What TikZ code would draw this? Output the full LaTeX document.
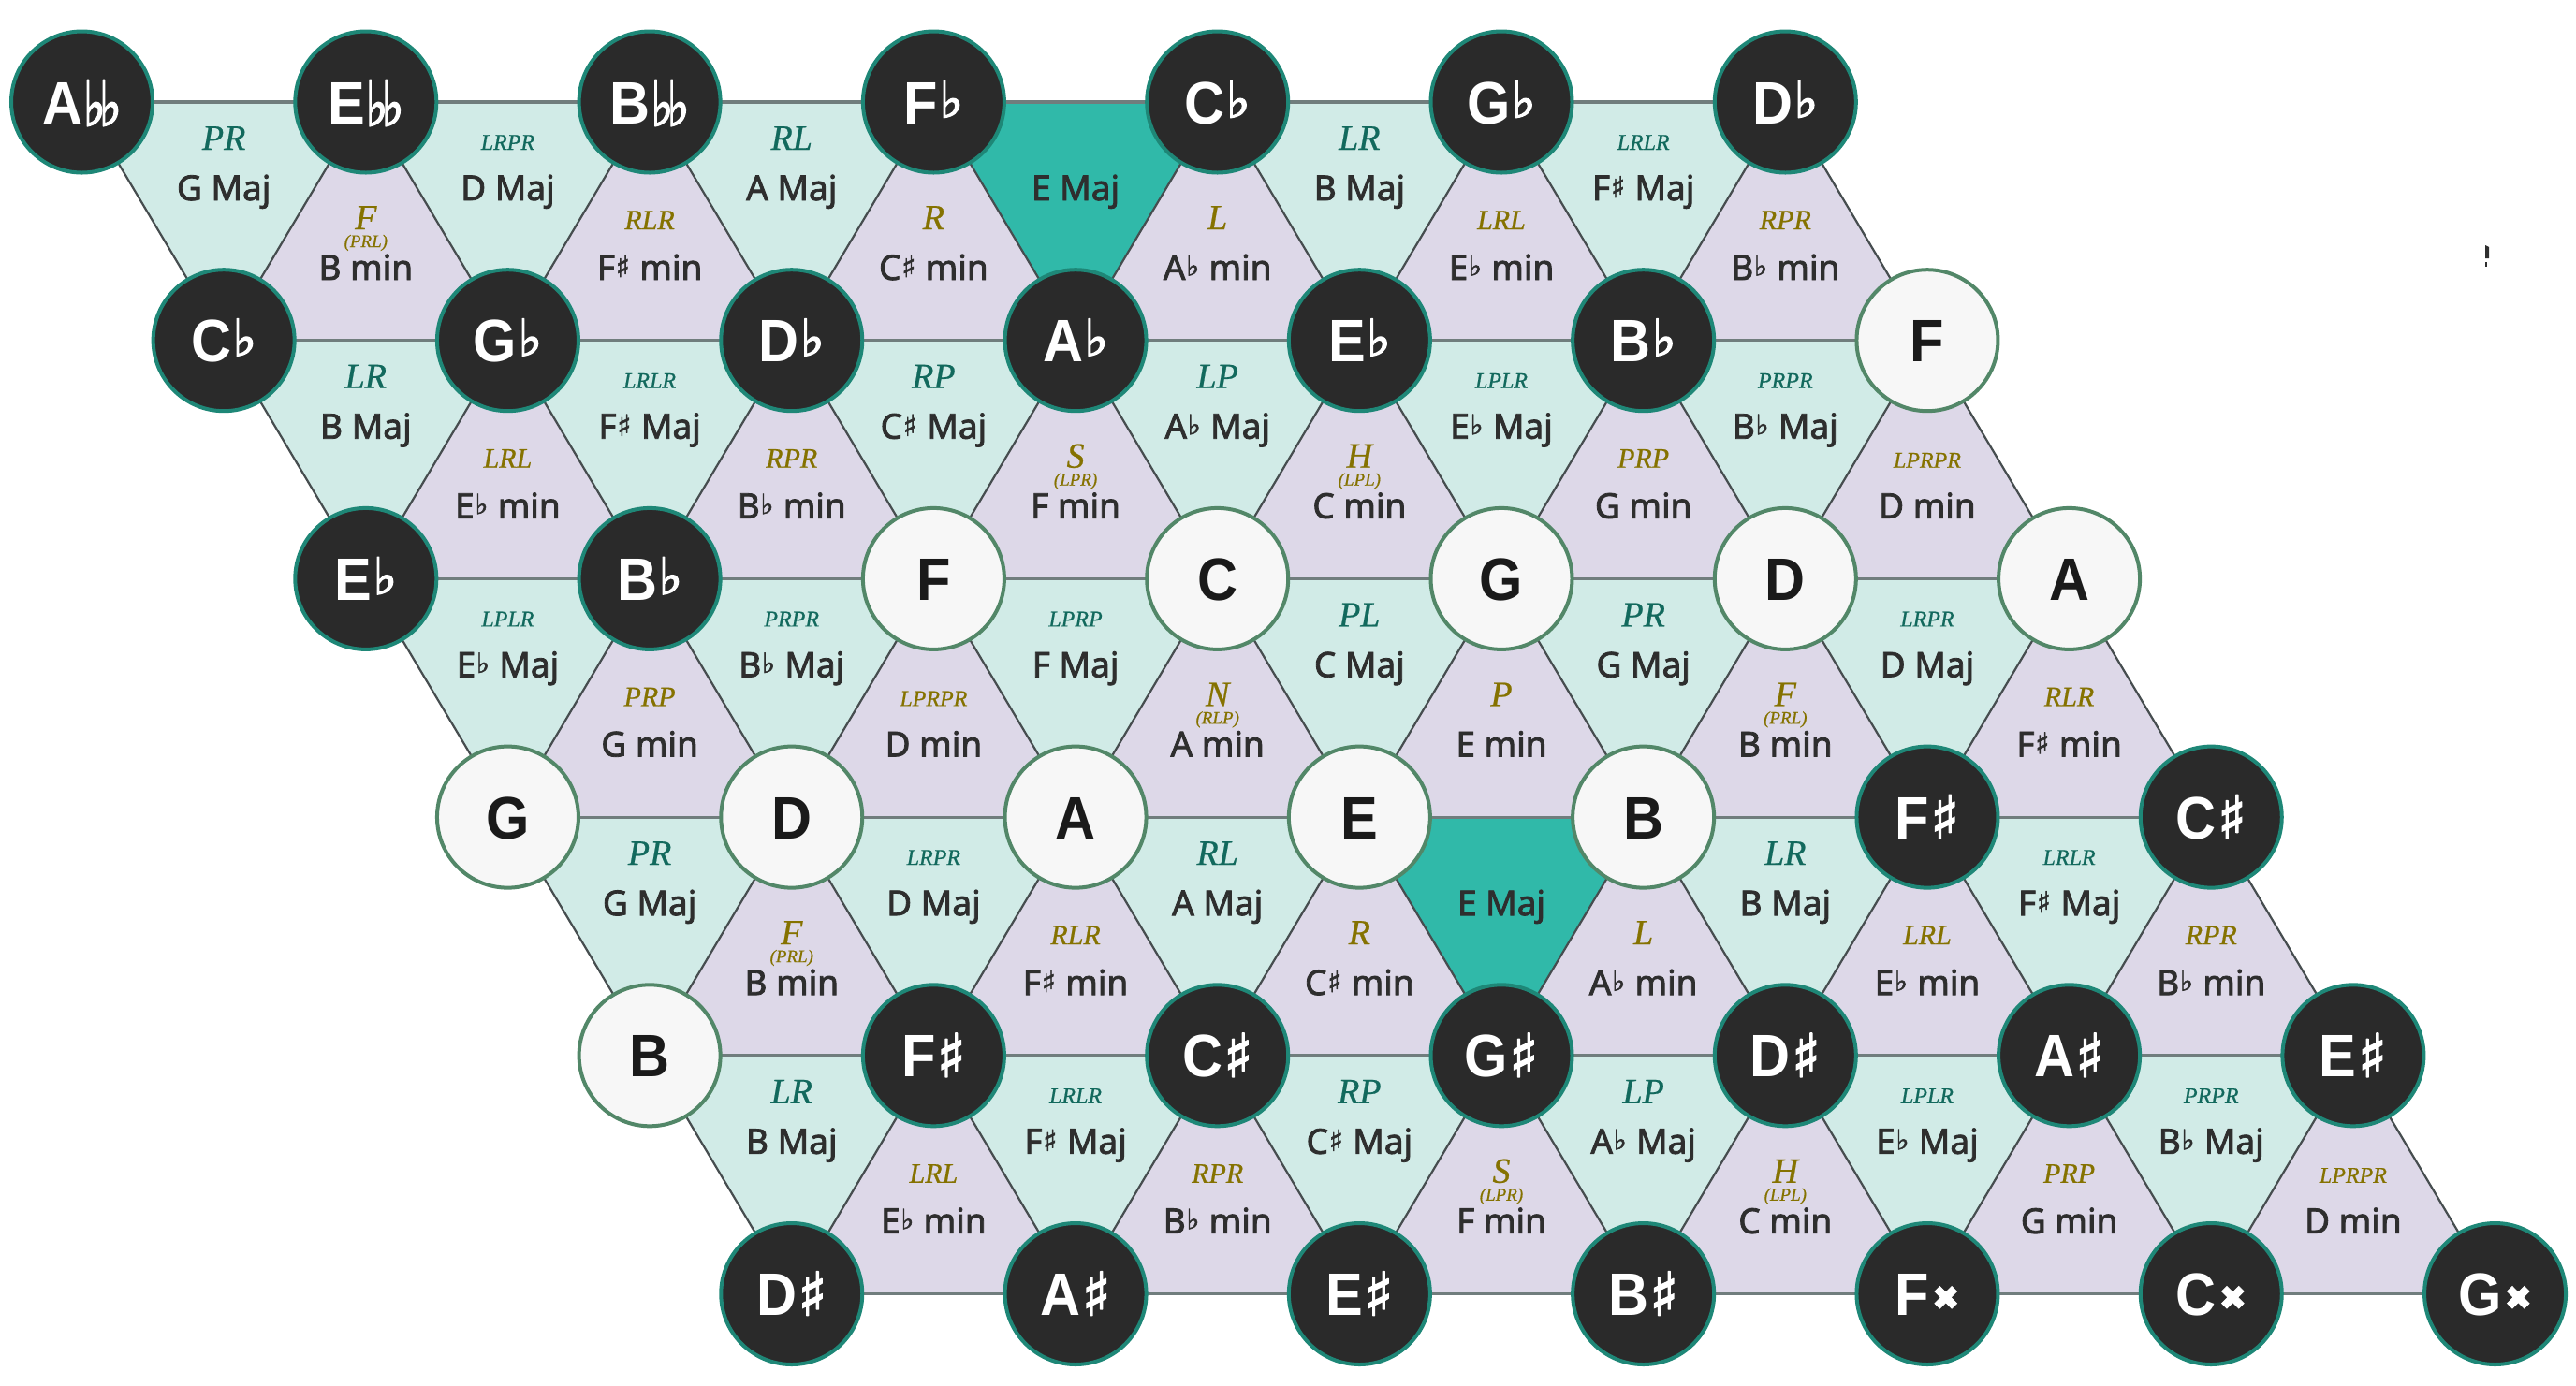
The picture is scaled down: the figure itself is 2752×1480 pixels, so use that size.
\documentclass[tikz,border=0pt]{standalone}
\usepackage{fontspec}
\usepackage{graphicx}
\setmainfont{Liberation Serif}
\newfontfamily\notefont{Liberation Sans}[FakeStretch=0.93]
\newfontfamily\chordfont{Noto Sans}[FakeBold=2.2]
\newfontfamily\labfont{Liberation Serif}[FakeBold=0.6]
\newfontfamily\symf{DejaVu Sans}[FakeBold=2.5]
\newfontfamily\symc{DejaVu Sans}[FakeBold=1.8]
\usetikzlibrary{calc}
\pgfdeclarelayer{bg}
\pgfdeclarelayer{lines}
\pgfsetlayers{bg,lines,main}

\definecolor{majfill}{HTML}{D1EBE7}
\definecolor{minfill}{HTML}{DDD8E8}
\definecolor{hifill}{HTML}{30B9A9}
\definecolor{darknode}{HTML}{2A2A2A}
\definecolor{darkborder}{HTML}{1E8777}
\definecolor{lightnode}{HTML}{F7F7F7}
\definecolor{lightborder}{HTML}{528768}
\definecolor{lightnotetext}{HTML}{1A1A1A}
\definecolor{majlab}{HTML}{12695D}
\definecolor{minlab}{HTML}{857200}
\definecolor{chordtext}{HTML}{2E2E2E}
\definecolor{hlinecol}{HTML}{707D7D}
\definecolor{dlinecol}{HTML}{464D4F}

% accidentals
\newcommand\nsh{\kern0.02em\raisebox{0.0em}{\scalebox{1.0}{\symf ♯}}}
\newcommand\nfl{\kern0.02em\raisebox{0.1em}{\scalebox{0.85}{\symf ♭}}}
\newcommand\nff{\kern0.01em\raisebox{-0.04em}{\scalebox{0.8}[1.05]{\symf ♭\kern-0.14em♭}}}
\newcommand\nxx{\kern0.05em\raisebox{0.1em}{\scalebox{0.55}{\symf ✖}}}
\newcommand\csh{\kern0.02em\raisebox{0.08em}{\scalebox{0.85}{\symc ♯}}\kern0.02em}
\newcommand\cfl{\kern0.02em\raisebox{0.12em}{\scalebox{0.8}{\symc ♭}}\kern0.02em}

% node placement: row r, column i
\newcommand\nd[4]{%
  \pgfmathsetmacro\myx{87.5+151.65*#1+303.3*#2}%
  \pgfmathsetmacro\myy{109+254.7*#1}%
  \node[#3] (n-#1-#2) at (\myx,\myy) {#4};}
% major (downward) triangle labels: top edge (r,i)-(r,i+1)
\newcommand\maj[5]{%
  \pgfmathsetmacro\myx{87.5+151.65*#1+303.3*#2+151.65}%
  \pgfmathsetmacro\myy{109+254.7*#1}%
  \node[#3,text=majlab] (ml-#1-#2) at (\myx,\myy+51) {#4};
  \node[chord] (mc-#1-#2) at (\myx,\myy+105) {#5};}
\newcommand\majh[3]{%
  \pgfmathsetmacro\myx{87.5+151.65*#1+303.3*#2+151.65}%
  \pgfmathsetmacro\myy{109+254.7*#1}%
  \node[chord] (mc-#1-#2) at (\myx,\myy+105) {#3};}
% minor (upward) triangle labels: top vertex (r,i)
\newcommand\mnr[5]{%
  \pgfmathsetmacro\myx{87.5+151.65*#1+303.3*#2}%
  \pgfmathsetmacro\myy{109+254.7*#1}%
  \node[#3,text=minlab] (nl-#1-#2) at (\myx,\myy+136) {#4};
  \node[chord] (nc-#1-#2) at (\myx,\myy+190) {#5};}
\newcommand\mns[5]{%
  \pgfmathsetmacro\myx{87.5+151.65*#1+303.3*#2}%
  \pgfmathsetmacro\myy{109+254.7*#1}%
  \node[lbig,text=minlab] (nl-#1-#2) at (\myx,\myy+136) {#3};
  \node[lsub,text=minlab] (ns-#1-#2) at (\myx,\myy+155) {(#4)};
  \node[chord] (nc-#1-#2) at (\myx,\myy+190) {#5};}

\newcommand\bandA[1]{%
  \maj{#1}{0}{lbig}{PR}{G Maj}
  \maj{#1}{1}{lsmall}{LRPR}{D Maj}
  \maj{#1}{2}{lbig}{RL}{A Maj}
  \majh{#1}{3}{E Maj}
  \maj{#1}{4}{lbig}{LR}{B Maj}
  \maj{#1}{5}{lsmall}{LRLR}{F\csh{} Maj}
  \mns{#1}{1}{F}{PRL}{B min}
  \mnr{#1}{2}{lmed}{RLR}{F\csh{} min}
  \mnr{#1}{3}{lbig}{R}{C\csh{} min}
  \mnr{#1}{4}{lbig}{L}{A\cfl{} min}
  \mnr{#1}{5}{lmed}{LRL}{E\cfl{} min}
  \mnr{#1}{6}{lmed}{RPR}{B\cfl{} min}}
\newcommand\bandB[1]{%
  \maj{#1}{0}{lbig}{LR}{B Maj}
  \maj{#1}{1}{lsmall}{LRLR}{F\csh{} Maj}
  \maj{#1}{2}{lbig}{RP}{C\csh{} Maj}
  \maj{#1}{3}{lbig}{LP}{A\cfl{} Maj}
  \maj{#1}{4}{lsmall}{LPLR}{E\cfl{} Maj}
  \maj{#1}{5}{lsmall}{PRPR}{B\cfl{} Maj}
  \mnr{#1}{1}{lmed}{LRL}{E\cfl{} min}
  \mnr{#1}{2}{lmed}{RPR}{B\cfl{} min}
  \mns{#1}{3}{S}{LPR}{F min}
  \mns{#1}{4}{H}{LPL}{C min}
  \mnr{#1}{5}{lmed}{PRP}{G min}
  \mnr{#1}{6}{lsmall}{LPRPR}{D min}}

\begin{document}
\begin{tikzpicture}[x=0.5pt,y=-0.5pt,
  dk/.style={circle,draw=darkborder,fill=darknode,line width=2pt,minimum size=75.5pt,inner sep=0pt,
     text=white,font=\notefont\bfseries\fontsize{32}{32}\selectfont,text height=23pt,text depth=0pt},
  lt/.style={dk,draw=lightborder,fill=lightnode,text=lightnotetext},
  chord/.style={anchor=base,inner sep=0pt,text=chordtext,font=\chordfont\fontsize{18.5}{18.5}\selectfont},
  lbig/.style={anchor=base,inner sep=0pt,font=\labfont\itshape\fontsize{19}{19}\selectfont},
  lmed/.style={lbig,font=\labfont\itshape\fontsize{15}{15}\selectfont},
  lsmall/.style={lbig,font=\labfont\itshape\fontsize{12}{12}\selectfont},
  lsub/.style={lbig,font=\labfont\itshape\fontsize{9.5}{9.5}\selectfont},
  hline/.style={draw=hlinecol,line width=1.6pt},
  dline/.style={draw=dlinecol,line width=1.1pt}]
\useasboundingbox (0,0) rectangle (2752,1480);

% ---- note nodes
\nd{0}{0}{dk}{A\nff}\nd{0}{1}{dk}{E\nff}\nd{0}{2}{dk}{B\nff}\nd{0}{3}{dk}{F\nfl}
\nd{0}{4}{dk}{C\nfl}\nd{0}{5}{dk}{G\nfl}\nd{0}{6}{dk}{D\nfl}
\nd{1}{0}{dk}{C\nfl}\nd{1}{1}{dk}{G\nfl}\nd{1}{2}{dk}{D\nfl}\nd{1}{3}{dk}{A\nfl}
\nd{1}{4}{dk}{E\nfl}\nd{1}{5}{dk}{B\nfl}\nd{1}{6}{lt}{F}
\nd{2}{0}{dk}{E\nfl}\nd{2}{1}{dk}{B\nfl}\nd{2}{2}{lt}{F}\nd{2}{3}{lt}{C}
\nd{2}{4}{lt}{G}\nd{2}{5}{lt}{D}\nd{2}{6}{lt}{A}
\nd{3}{0}{lt}{G}\nd{3}{1}{lt}{D}\nd{3}{2}{lt}{A}\nd{3}{3}{lt}{E}
\nd{3}{4}{lt}{B}\nd{3}{5}{dk}{F\nsh}\nd{3}{6}{dk}{C\nsh}
\nd{4}{0}{lt}{B}\nd{4}{1}{dk}{F\nsh}\nd{4}{2}{dk}{C\nsh}\nd{4}{3}{dk}{G\nsh}
\nd{4}{4}{dk}{D\nsh}\nd{4}{5}{dk}{A\nsh}\nd{4}{6}{dk}{E\nsh}
\nd{5}{0}{dk}{D\nsh}\nd{5}{1}{dk}{A\nsh}\nd{5}{2}{dk}{E\nsh}\nd{5}{3}{dk}{B\nsh}
\nd{5}{4}{dk}{F\nxx}\nd{5}{5}{dk}{C\nxx}\nd{5}{6}{dk}{G\nxx}

% ---- triangle fills
\begin{pgfonlayer}{bg}
\foreach \r in {0,...,4}{
  \pgfmathtruncatemacro\s{\r+1}
  \foreach \i in {0,...,5}{
    \pgfmathtruncatemacro\j{\i+1}
    \fill[majfill] (n-\r-\i.center) -- (n-\r-\j.center) -- (n-\s-\i.center) -- cycle;
    \fill[minfill] (n-\r-\j.center) -- (n-\s-\i.center) -- (n-\s-\j.center) -- cycle;
  }}
\fill[hifill] (n-0-3.center) -- (n-0-4.center) -- (n-1-3.center) -- cycle;
\fill[hifill] (n-3-3.center) -- (n-3-4.center) -- (n-4-3.center) -- cycle;
\end{pgfonlayer}

% ---- connectors
\begin{pgfonlayer}{lines}
\foreach \r in {0,...,5}{
  \foreach \i in {0,...,5}{
    \pgfmathtruncatemacro\j{\i+1}
    \draw[hline] (n-\r-\i.center) -- (n-\r-\j.center);
  }}
\foreach \r in {0,...,4}{
  \pgfmathtruncatemacro\s{\r+1}
  \foreach \i in {0,...,6}{
    \draw[dline] (n-\r-\i.center) -- (n-\s-\i.center);
  }
  \foreach \i in {1,...,6}{
    \pgfmathtruncatemacro\k{\i-1}
    \draw[dline] (n-\r-\i.center) -- (n-\s-\k.center);
  }}
\end{pgfonlayer}

% ---- triangle labels
\bandA{0}
\bandB{1}
\maj{2}{0}{lsmall}{LPLR}{E\cfl{} Maj}
\maj{2}{1}{lsmall}{PRPR}{B\cfl{} Maj}
\maj{2}{2}{lsmall}{LPRP}{F Maj}
\maj{2}{3}{lbig}{PL}{C Maj}
\maj{2}{4}{lbig}{PR}{G Maj}
\maj{2}{5}{lsmall}{LRPR}{D Maj}
\mnr{2}{1}{lmed}{PRP}{G min}
\mnr{2}{2}{lsmall}{LPRPR}{D min}
\mns{2}{3}{N}{RLP}{A min}
\mnr{2}{4}{lbig}{P}{E min}
\mns{2}{5}{F}{PRL}{B min}
\mnr{2}{6}{lmed}{RLR}{F\csh{} min}
\bandA{3}
\bandB{4}

% ---- stray mark
\fill[chordtext] (2655,262) -- (2659,264) -- (2659,276) -- (2655,276) -- cycle;
\fill[chordtext] (2655,280) rectangle (2657,285);
\end{tikzpicture}
\end{document}
